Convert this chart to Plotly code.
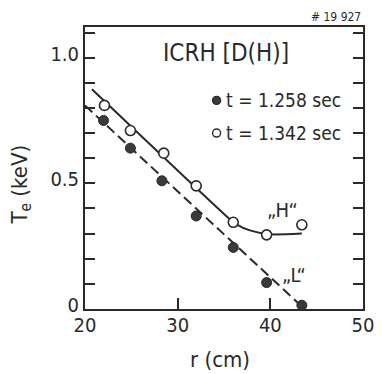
import plotly.graph_objects as go

# Electron temperature profiles, shot #19927 (ICRH D(H) heating)
r_L = [22.0, 24.9, 28.3, 32.0, 36.0, 39.6, 43.4]
te_L = [0.75, 0.64, 0.51, 0.37, 0.245, 0.105, 0.015]

r_H = [22.1, 24.9, 28.5, 32.0, 36.0, 39.6, 43.4]
te_H = [0.81, 0.71, 0.62, 0.49, 0.345, 0.295, 0.335]

# hand-drawn guide curves through the profiles
fit_L_r = [20.0, 43.4]
fit_L_te = [0.81, 0.01]
fit_H_r = [20.75, 35.0, 36.3, 37.8, 40.0, 43.4]
fit_H_te = [0.874, 0.378, 0.338, 0.313, 0.297, 0.300]

y_ticks = [round(0.1 * i, 1) for i in range(0, 12)]
y_ticktext = {0.0: "0", 0.5: "0.5", 1.0: "1.0"}
x_ticks = [20, 30, 40, 50]

FONT = "DejaVu Sans Condensed, Liberation Sans Narrow, DejaVu Sans, sans-serif"
INK = "#2a2a2a"

fig = go.Figure()

fig.add_trace(go.Scatter(x=fit_L_r, y=fit_L_te, mode="lines",
                         line=dict(color=INK, width=2, dash="10px,5px"),
                         hoverinfo="skip"))
fig.add_trace(go.Scatter(x=fit_H_r, y=fit_H_te, mode="lines",
                         line=dict(color=INK, width=2, shape="spline", smoothing=0.6),
                         hoverinfo="skip"))
fig.add_trace(go.Scatter(x=r_L, y=te_L, mode="markers", name="t = 1.258 sec",
                         marker=dict(symbol="circle", size=10, color="#3a3a3a",
                                     line=dict(color=INK, width=1))))
fig.add_trace(go.Scatter(x=r_H, y=te_H, mode="markers", name="t = 1.342 sec",
                         marker=dict(symbol="circle", size=10, color="white",
                                     line=dict(color=INK, width=1.6))))

annotations = [
    dict(x=35.2, y=1.02, text="ICRH [D(H)]", font=dict(size=24)),
    dict(x=35.05, y=0.83, text="t = 1.258 sec", xanchor="left", font=dict(size=19)),
    dict(x=35.05, y=0.70, text="t = 1.342 sec", xanchor="left", font=dict(size=19)),
    dict(x=41.3, y=0.395, text="„H“", font=dict(size=20)),
    dict(x=42.6, y=0.135, text="„L“", font=dict(size=20)),
    dict(x=1.0, y=1.005, xref="paper", yref="paper", text="# 19 927",
         xanchor="right", yanchor="bottom", font=dict(size=12)),
    dict(x=-0.228, y=0.44, xref="paper", yref="paper", text="T<sub>e</sub> (keV)",
         xanchor="center", yanchor="middle", textangle=-90, font=dict(size=22)),
    dict(x=0.485, y=-0.18, xref="paper", yref="paper", text="r (cm)",
         xanchor="center", yanchor="middle", font=dict(size=22)),
]
for a in annotations:
    a.setdefault("xref", "x")
    a.setdefault("yref", "y")
    a["showarrow"] = False
    a["font"] = dict(family=FONT, color=INK, **a["font"])
fig.update_layout(annotations=annotations)

# legend keys
for ypos, fill in [(0.83, "#3a3a3a"), (0.70, "white")]:
    fig.add_shape(type="circle", xref="x", yref="y", xsizemode="pixel", ysizemode="pixel",
                  xanchor=34.2, yanchor=ypos, x0=-4, x1=4, y0=-4, y1=4,
                  fillcolor=fill, line=dict(color=INK, width=1.4))

fig.update_xaxes(range=[20, 50], tickvals=x_ticks, ticktext=[str(v) for v in x_ticks],
                 ticks="inside", ticklen=11, tickwidth=2, tickcolor=INK,
                 ticklabeloverflow="allow", ticklabelstandoff=-3,
                 showline=True, linewidth=2, linecolor=INK, mirror=True,
                 showgrid=False, zeroline=False,
                 tickfont=dict(family=FONT, size=20, color=INK))
fig.update_yaxes(range=[0, 1.122], tickvals=y_ticks,
                 ticktext=[y_ticktext.get(v, "") for v in y_ticks],
                 ticks="inside", ticklen=10, tickwidth=2, tickcolor=INK,
                 ticklabelshift=-4,
                 showline=True, linewidth=2, linecolor=INK, mirror="ticks",
                 showgrid=False, zeroline=False,
                 tickfont=dict(family=FONT, size=20, color=INK))

fig.update_layout(width=382, height=374, showlegend=False,
                  margin=dict(l=85, r=8, t=27, b=65),
                  paper_bgcolor="white", plot_bgcolor="white")

fig.write_html("out.html")
